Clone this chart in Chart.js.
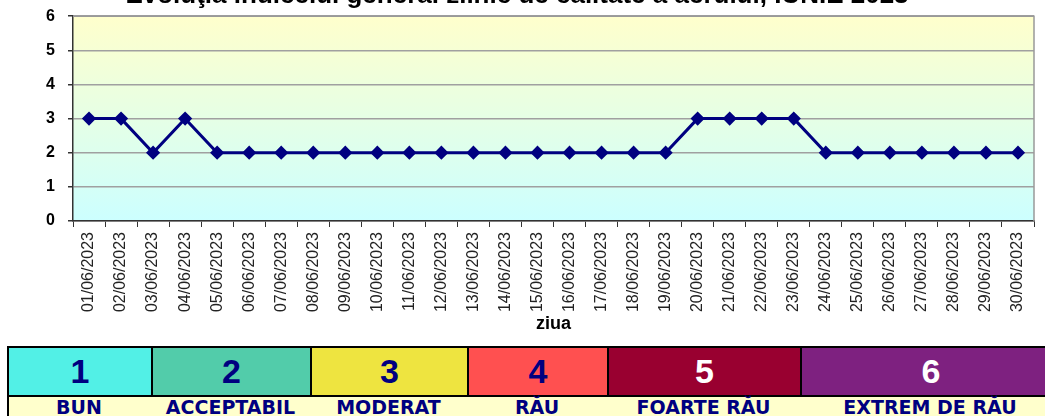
<!DOCTYPE html>
<html>
<head>
<meta charset="utf-8">
<script src="https://cdn.jsdelivr.net/npm/chart.js@4.4.0/dist/chart.umd.min.js"></script>
<style>
  html, body { margin: 0; padding: 0; background: #fff; overflow: hidden; }
  body { width: 1045px; height: 416px; position: relative; font-family: Arial, "Liberation Sans", sans-serif; }
  #wrap { position: absolute; left: 0; top: -20px; width: 1045px; height: 356px; }
  #scale { position: absolute; left: 7px; top: 346px; width: 1060px; }
  .row { display: flex; }
  .cell { box-sizing: border-box; text-align: center; font-weight: bold; }
  .nums .cell { height: 51px; border: 2px solid #000; border-right: none; font-size: 34px; line-height: 47px; }
  .names { background: #ffffcc; border-left: 2px solid #000; height: 30px; }
  .names .cell { color: #000080; font-family: "DejaVu Sans", Verdana, sans-serif; font-size: 19px; line-height: 20px; padding-top: 0; }
  .names .cell:first-child { margin-left: -2px; }
</style>
</head>
<body>
<div id="wrap"><canvas id="aqi-chart" width="1045" height="356"></canvas></div>
<div id="scale">
  <div class="row nums"></div>
  <div class="row names"></div>
</div>
<script>
const days = [
  "01/06/2023", "02/06/2023", "03/06/2023", "04/06/2023", "05/06/2023",
  "06/06/2023", "07/06/2023", "08/06/2023", "09/06/2023", "10/06/2023",
  "11/06/2023", "12/06/2023", "13/06/2023", "14/06/2023", "15/06/2023",
  "16/06/2023", "17/06/2023", "18/06/2023", "19/06/2023", "20/06/2023",
  "21/06/2023", "22/06/2023", "23/06/2023", "24/06/2023", "25/06/2023",
  "26/06/2023", "27/06/2023", "28/06/2023", "29/06/2023", "30/06/2023",
];
const indexValues = [
  3, 3, 2, 3, 2, 2, 2, 2, 2, 2,
  2, 2, 2, 2, 2, 2, 2, 2, 2, 3,
  3, 3, 3, 2, 2, 2, 2, 2, 2, 2,
];
const levels = [1, 2, 3, 4, 5, 6];
const levelNames = ["BUN", "ACCEPTABIL", "MODERAT", "RĂU", "FOARTE RĂU", "EXTREM DE RĂU"];
const levelColors = ["#52f0e6", "#52ccaa", "#eee440", "#ff5050", "#990030", "#7e2180"];
const levelTextColors = ["#000080", "#000080", "#000080", "#000080", "#ffffff", "#ffffff"];
const levelWidths = [144, 159, 157, 140, 193, 260];

// index scale under the chart
const numRow = document.querySelector("#scale .nums");
const nameRow = document.querySelector("#scale .names");
levels.forEach((lvl, i) => {
  const c = document.createElement("div");
  c.className = "cell";
  c.textContent = lvl;
  c.style.background = levelColors[i];
  c.style.color = levelTextColors[i];
  c.style.width = levelWidths[i] + "px";
  numRow.appendChild(c);
  const n = document.createElement("div");
  n.className = "cell";
  n.textContent = levelNames[i];
  n.style.width = levelWidths[i] + "px";
  nameRow.appendChild(n);
});

const plotBackground = {
  id: "plotBackground",
  beforeDraw(chart) {
    const { ctx, chartArea: a } = chart;
    const g = ctx.createLinearGradient(0, a.top, 0, a.bottom);
    g.addColorStop(0, "#ffffcc");
    g.addColorStop(1, "#ccffff");
    ctx.save();
    ctx.fillStyle = g;
    ctx.fillRect(a.left, a.top, a.right - a.left, a.bottom - a.top);
    ctx.restore();
  },
  afterDraw(chart) {
    const { ctx, chartArea: a } = chart;
    ctx.save();
    ctx.strokeStyle = "#999999";
    ctx.lineWidth = 1.5;
    ctx.beginPath();
    ctx.moveTo(a.left, a.top);
    ctx.lineTo(a.right, a.top);
    ctx.lineTo(a.right, a.bottom);
    ctx.stroke();
    ctx.restore();
  },
};

new Chart(document.getElementById("aqi-chart").getContext("2d"), {
  type: "line",
  data: {
    labels: days,
    datasets: [
      {
        label: "Indice general",
        data: indexValues,
        borderColor: "#000080",
        backgroundColor: "#000080",
        borderWidth: 3,
        pointStyle: "rectRot",
        pointRadius: 5,
        pointBackgroundColor: "#000080",
        pointBorderColor: "#000080",
        tension: 0,
      },
    ],
  },
  options: {
    responsive: false,
    animation: false,
    devicePixelRatio: 1,
    layout: { padding: { left: 0, right: 11, top: 0, bottom: 0 } },
    plugins: {
      legend: { display: false },
      tooltip: { enabled: false },
      title: {
        display: true,
        text: "Evoluţia indicelui general zilnic de calitate a aerului, IUNIE 2023",
        color: "#000",
        font: { family: "Arial", size: 26, weight: "bold" },
        padding: { top: 0, bottom: 5 },
      },
    },
    scales: {
      x: {
        offset: true,
        afterFit(scale) { scale.height = 115; },
        grid: { offset: true, drawOnChartArea: false, drawTicks: true, tickLength: 6, color: "#333" },
        border: { color: "#333", width: 1.5 },
        ticks: {
          autoSkip: false,
          maxRotation: 90,
          minRotation: 90,
          padding: 5,
          color: "#222",
          font: { family: "Arial", size: 16 },
        },
        title: {
          display: true,
          text: "ziua",
          color: "#000",
          font: { family: "Arial", size: 18, weight: "bold" },
          padding: { top: 0, bottom: 1 },
        },
      },
      y: {
        min: 0,
        max: 6,
        afterFit(scale) { scale.width = 73; },
        grid: { color: "#a0a0a0", lineWidth: 1.5, tickLength: 5, tickColor: "#333" },
        border: { color: "#333", width: 1.5 },
        ticks: {
          stepSize: 1,
          padding: 13,
          color: "#000",
          font: { family: "Arial", size: 16, weight: "bold" },
        },
      },
    },
  },
  plugins: [plotBackground],
});
</script>
</body>
</html>
